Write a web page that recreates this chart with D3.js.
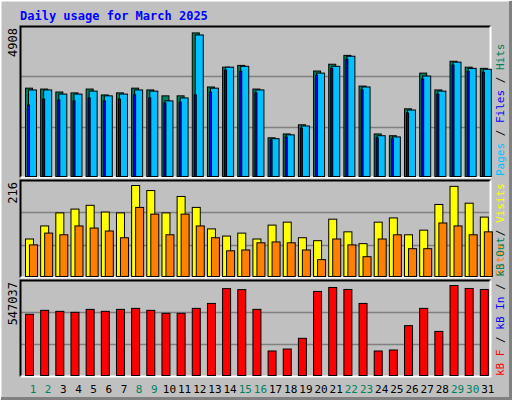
<!DOCTYPE html>
<html>
<head>
<meta charset="utf-8">
<script src="https://cdn.jsdelivr.net/npm/d3@7"></script>
<style>
  body { margin: 0; background: #fff; }
  text { font-family: "DejaVu Sans Mono", monospace; }
</style>
</head>
<body>
<svg id="chart" width="512" height="400"></svg>
<script>
// values
const days = d3.range(1, 32);
const weekend = [1, 2, 8, 9, 15, 16, 22, 23, 29, 30];
const hits = [2990, 2960, 2860, 2830, 2960, 2760, 2830, 2990, 2930, 2730, 2730, 4860, 3030, 3700, 3760, 2960, 1310, 1440, 1750, 3570, 3800, 4100, 3060, 1440, 1380, 2290, 3500, 2930, 3900, 3700, 3660];
const files = [2930, 2930, 2790, 2790, 2890, 2730, 2790, 2930, 2890, 2560, 2660, 4790, 2990, 3700, 3730, 2930, 1280, 1410, 1710, 3500, 3730, 4070, 3030, 1380, 1340, 2250, 3400, 2890, 3870, 3660, 3630];
const pages = [2420, 2620, 2590, 2560, 2660, 2560, 2620, 2760, 2660, 2490, 2520, 2760, 2860, 3600, 3560, 2830, 1240, 1340, 1640, 3430, 3660, 3970, 2930, 1310, 1280, 2150, 3300, 2790, 3770, 3560, 3530];
const visits = [89, 120, 151, 160, 169, 153, 151, 216, 204, 151, 190, 164, 113, 96, 103, 89, 122, 129, 92, 85, 136, 106, 78, 129, 139, 99, 110, 171, 214, 174, 141];
const sites = [75, 103, 99, 120, 115, 108, 92, 164, 148, 99, 148, 120, 92, 61, 63, 80, 82, 80, 63, 40, 89, 75, 47, 89, 99, 66, 66, 127, 120, 99, 106];
const kbytes = [372000, 396000, 390000, 384000, 402000, 390000, 402000, 408000, 396000, 378000, 378000, 408000, 438000, 528000, 522000, 402000, 149000, 161000, 226000, 511000, 535000, 523000, 438000, 149000, 155000, 303000, 408000, 268000, 547037, 529000, 523000];
const maxHits = 4908, maxVisits = 216, maxKB = 547037;

const svg = d3.select("#chart");

// background + bevelled frame
svg.append("rect").attr("width", 512).attr("height", 400).attr("fill", "#c0c0c0");
svg.append("path").attr("d", "M0.5,399.5 V0.5 H511.5").attr("stroke", "#fff").attr("stroke-width", 2).attr("fill", "none");
svg.append("path").attr("d", "M1,398.5 H510.5 V1").attr("stroke", "#808080").attr("stroke-width", 3).attr("fill", "none");

svg.append("text").attr("x", 20).attr("y", 20)
  .attr("fill", "#0000ff").attr("font-size", 12).attr("font-weight", "bold")
  .text("Daily usage for March 2025");

const x = d3.scaleBand().domain(days).range([20, 490]).paddingInner(0);

const panels = [
  { top: 26, bottom: 177, max: maxHits },
  { top: 180, bottom: 277, max: maxVisits },
  { top: 280, bottom: 376, max: maxKB }
];

panels.forEach(p => {
  p.y = d3.scaleLinear().domain([0, p.max]).range([p.bottom - 1, p.top + 5]);
  const g = svg.append("g");
  [1, 2].forEach(k => {
    const yy = Math.round(p.bottom - (p.bottom - p.top) * k / 3) + 0.5;
    g.append("line").attr("x1", 21).attr("x2", 489).attr("y1", yy).attr("y2", yy)
      .attr("stroke", "#808080").attr("stroke-width", 1.5);
  });
  g.append("path").attr("d", `M20.5,${p.bottom + 0.5} V${p.top + 0.5} H490.5`)
    .attr("stroke", "#000").attr("stroke-width", 2).attr("fill", "none");
  g.append("path").attr("d", `M20.5,${p.bottom + 0.5} H490.5 V${p.top + 0.5}`)
    .attr("stroke", "#fff").attr("stroke-width", 2).attr("fill", "none");
  svg.append("text")
    .attr("transform", `translate(17,${p.top + 2}) rotate(-90)`)
    .attr("text-anchor", "end").attr("font-size", 12).attr("fill", "#000")
    .attr("font-family", "DejaVu Sans, sans-serif")
    .text(p.max);
});

function bars(data, scale, dx, w, color) {
  svg.append("g").selectAll("rect").data(data).join("rect")
    .attr("x", (d, i) => x(days[i]) + dx + 0.5)
    .attr("y", d => scale(d) + 0.5)
    .attr("width", w)
    .attr("height", d => scale(0) - scale(d))
    .attr("fill", color).attr("stroke", "#000").attr("stroke-width", 1);
}

const [p1, p2, p3] = panels;
bars(hits, p1.y, 5, 7, "#00805c");
bars(files, p1.y, 8, 8, "#00c0ff");
bars(pages, p1.y, 7, 2, "#0000ff");
bars(visits, p2.y, 5, 8, "#ffff00");
bars(sites, p2.y, 9, 8, "#ff8000");
bars(kbytes, p3.y, 5, 8, "#ff0000");

// day labels
svg.append("g").selectAll("text").data(days).join("text")
  .attr("x", d => x(d) + 13)
  .attr("y", 393)
  .attr("text-anchor", "middle")
  .attr("font-size", 11)
  .attr("font-family", "DejaVu Sans, sans-serif")
  .attr("fill", d => weekend.includes(d) ? "#00805c" : "#000")
  .text(d => d);

// right-side legends, reading bottom to top
function legend(yBottom, parts) {
  const t = svg.append("text")
    .attr("transform", `translate(504,${yBottom}) rotate(-90)`)
    .attr("font-size", 11);
  parts.forEach(([s, c]) => t.append("tspan").attr("fill", c).text(s));
}
legend(176, [["Pages", "#00c0ff"], [" / ", "#000"], ["Files", "#0000ff"], [" / ", "#000"], ["Hits", "#00805c"]]);
legend(276, [["Sites", "#ff8000"], [" / ", "#000"], ["Visits", "#ffff00"]]);
legend(376, [["kB F", "#ff0000"], [" / ", "#000"], ["kB In", "#0000ff"], [" / ", "#000"], ["kB Out", "#00805c"]]);
</script>
</body>
</html>
